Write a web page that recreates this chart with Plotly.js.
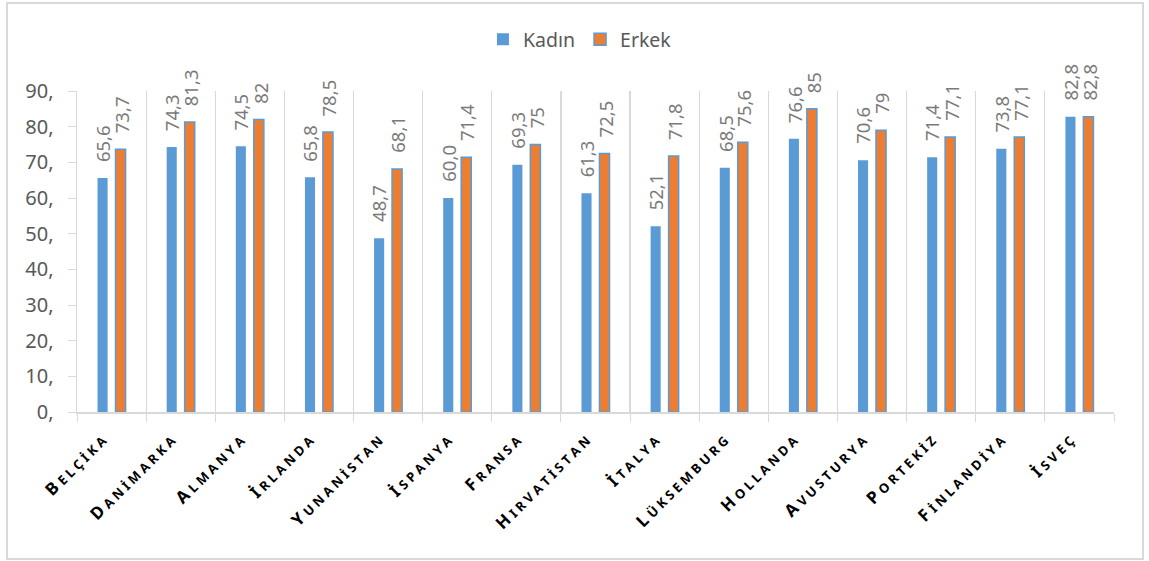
<!DOCTYPE html>
<html>
<head>
<meta charset="utf-8">
<script src="https://cdn.plot.ly/plotly-3.0.1.min.js"></script>
<style>
  html, body { margin: 0; padding: 0; background: #fff; }
  #wrap { position: relative; width: 1149px; height: 561px; }
  #chart { width: 1149px; height: 561px; }
  #frame { position: absolute; left: 6px; top: 2px; width: 1134px; height: 554px;
           border: 2px solid #d9d9d9; pointer-events: none; }
</style>
</head>
<body>
<div id="wrap"><div id="chart"></div><div id="frame"></div></div>
<script>
// ---- data ----
const countries = ["Belçika", "Danimarka", "Almanya", "İrlanda", "Yunanistan", "İspanya", "Fransa",
  "Hırvatistan", "İtalya", "Lüksemburg", "Hollanda", "Avusturya", "Portekiz", "Finlandiya", "İsveç"];
const kadin = [65.6, 74.3, 74.5, 65.8, 48.7, 60.0, 69.3, 61.3, 52.1, 68.5, 76.6, 70.6, 71.4, 73.8, 82.8];
const erkek = [73.7, 81.3, 82, 78.5, 68.1, 71.4, 75, 72.5, 71.8, 75.6, 85, 79, 77.1, 77.1, 82.8];
const yTickVals = [0, 10, 20, 30, 40, 50, 60, 70, 80, 90];
const seriesNames = ["Kadın", "Erkek"];

// ---- helpers ----
const NB = '\u00a0';
function smallCaps(name) {
  const first = name.charAt(0).toLocaleUpperCase('tr');
  const rest = Array.from(name.slice(1).toLocaleUpperCase('tr')).join(' ');
  return '<span style="font-size:17px">' + first + '</span> ' +
         '<span style="font-size:13px">' + rest + NB + NB + NB + NB + '</span>';
}
const fmtFixed = v => v.toFixed(1).replace('.', ',');
const fmtPlain = v => String(v).replace('.', ',');

const gray = '#595959';
const labelGray = '#7a7a7a';
const grid = '#d9d9d9';

const traces = [
  {
    type: 'bar', name: seriesNames[0], x: countries, y: kadin,
    marker: { color: '#5B9BD5' }, hoverinfo: 'x+y'
  },
  {
    type: 'bar', name: seriesNames[1], x: countries, y: erkek,
    marker: { color: '#ED7D31', line: { color: '#5B9BD5', width: 1.5 } }, hoverinfo: 'x+y'
  }
];

function labels(vals, fmt, xshift) {
  return vals.map((v, i) => ({
    x: countries[i], y: v, xref: 'x', yref: 'y',
    text: fmt(v), showarrow: false, textangle: -90,
    xanchor: 'center', yanchor: 'bottom', xshift: xshift, yshift: 14,
    font: { family: 'Noto Sans', size: 18.5, color: labelGray }
  }));
}
const annotations = labels(kadin, fmtFixed, -9).concat(labels(erkek, fmtPlain, 10));

const layout = {
  width: 1149, height: 561,
  margin: { l: 77, r: 35, t: 91, b: 149 },
  paper_bgcolor: '#fff', plot_bgcolor: '#fff',
  barmode: 'group', bargap: 0.48, bargroupgap: 0.44,
  font: { family: 'Noto Sans', color: gray },
  showlegend: true,
  legend: {
    orientation: 'h', x: 0.485, xanchor: 'center', y: 1.16, yanchor: 'middle',
    font: { family: 'Noto Sans', size: 19.5, color: gray },
    itemwidth: 30, traceorder: 'normal'
  },
  annotations: annotations,
  xaxis: {
    type: 'category', tickvals: countries, ticktext: countries.map(smallCaps),
    tickangle: -45, tickson: 'boundaries', ticks: 'outside', ticklen: 8,
    tickcolor: grid, showgrid: true, gridcolor: grid, gridwidth: 1.2,
    showline: true, linecolor: grid, linewidth: 1.5,
    tickfont: { family: 'Noto Sans', size: 15, color: '#000', weight: 'bold' },
    ticklabelstandoff: 3
  },
  yaxis: {
    range: [0, 90], tickvals: yTickVals, ticktext: yTickVals.map(v => v + ','),
    ticks: 'outside', ticklen: 8, tickcolor: grid,
    showgrid: false, zeroline: false,
    showline: true, linecolor: grid, linewidth: 1.5,
    tickfont: { family: 'Noto Sans', size: 20, color: gray },
    ticklabelstandoff: 10
  }
};

Plotly.newPlot('chart', traces, layout, { displayModeBar: false, staticPlot: true });
</script>
</body>
</html>
